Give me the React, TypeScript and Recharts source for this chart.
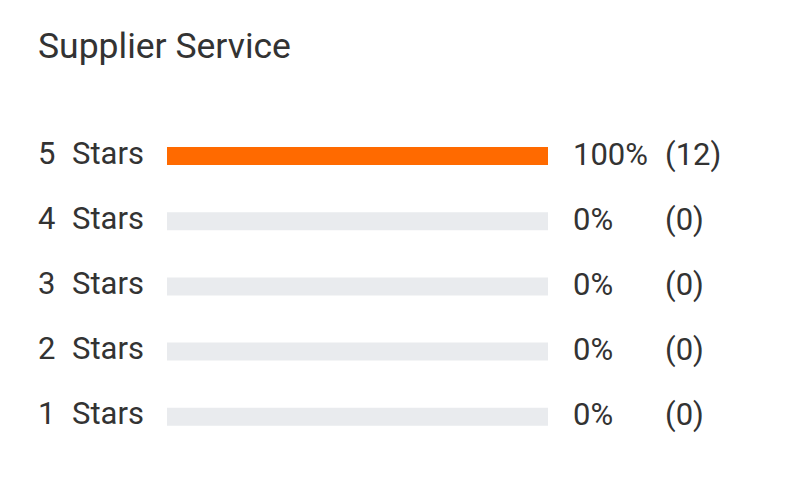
import { useEffect } from 'react'
import { BarChart, Bar, XAxis, YAxis } from 'recharts'

const stars = ['5', '4', '3', '2', '1']
const percents = [100, 0, 0, 0, 0]
const counts = [12, 0, 0, 0, 0]

// grey track is the part of 100% not filled
const data = stars.map((s, i) => ({
  star: s,
  pct: percents[i],
  rest: 100 - percents[i],
  count: counts[i],
}))

const textColor = '#333'
const font = 'Roboto, "Liberation Sans", sans-serif'

function RowTick(props: any) {
  const { y, payload } = props
  const row = data[payload.index] ?? data.find((d) => d.star === payload.value)
  return (
    <g fontFamily={font} fontSize={31} fill={textColor}>
      <text x={38} y={y} dy={8}>{payload.value}</text>
      <text x={72} y={y} dy={8}>Stars</text>
      <text x={573} y={y} dy={9}>{row.pct}%</text>
      <text x={665} y={y} dy={9}>({row.count})</text>
    </g>
  )
}

export default function App() {
  useEffect(() => {
    document.body.style.margin = '0'
  }, [])

  return (
    <div style={{ position: 'relative', width: 794, height: 481, background: '#fff' }}>
      <div
        style={{
          position: 'absolute',
          left: 38,
          top: 25,
          fontFamily: font,
          fontSize: 35.5,
          color: textColor,
          lineHeight: '42px',
        }}
      >
        Supplier Service
      </div>
      <BarChart
        width={794}
        height={481}
        data={data}
        layout="vertical"
        margin={{ top: 123, right: 246, bottom: 32, left: 0 }}
      >
        <XAxis type="number" domain={[0, 100]} hide />
        <YAxis
          type="category"
          dataKey="star"
          width={167}
          axisLine={false}
          tickLine={false}
          tick={<RowTick />}
        />
        <Bar dataKey="pct" stackId="s" barSize={18} fill="#ff6a00" isAnimationActive={false} />
        <Bar dataKey="rest" stackId="s" barSize={18} fill="#e9ebee" isAnimationActive={false} />
      </BarChart>
    </div>
  )
}
